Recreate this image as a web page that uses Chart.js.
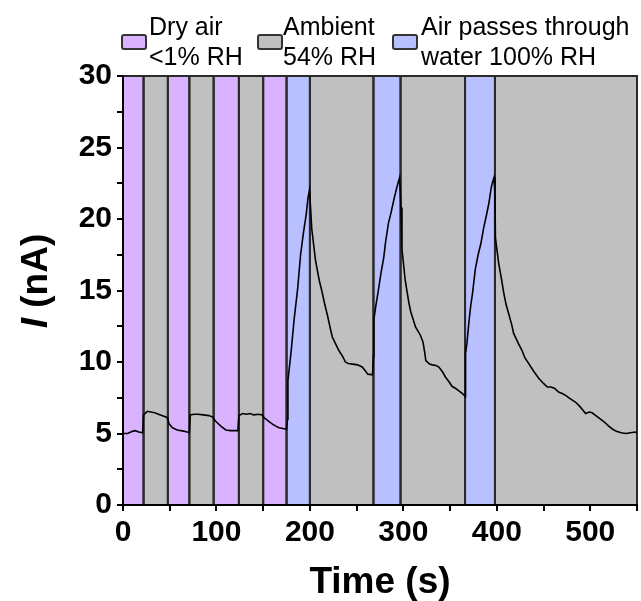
<!DOCTYPE html>
<html><head><meta charset="utf-8">
<script src="https://cdn.jsdelivr.net/npm/chart.js@4"></script>
<style>html,body{margin:0;padding:0;background:#fff}canvas{display:block}</style>
</head><body>
<canvas id="c" width="641" height="601"></canvas>
<script>
// ---- data ----
const timeS = [0,5,10,13,17,21,22,26,30,34,40,46,48,49,53,58,62,66,71,72,76,80,86,92,96,98,100,105,110,115,123,124,128,132,136,140,145,149,151,153,157,160,164,167,171,175,176,176.5,180,183,187,190,193,196,198,199.5,200.5,202,204,206,210,213,216,219,222,224,228,231,235,238,241,246,251,256,259,262,267,268,268.5,270.5,273,276,279,281,284,287,290,293,296,297.5,298.5,302,306,308,313,318,321,323,324,328,331,335,338,342,345,349,352,356,359,363,365.5,366,366.5,368,370,372,374,377,380,383,386,389,391.5,394,396,397,398,398.5,402,405,407.5,410,413,416,418,423,427,430,434,440,445,450,454,458,462,466,470,474,478,484,488,492,495,499,502,507,512,516,520,524,528,533,538,543,548,550];
const currentNA = [5.0,5.0,5.15,5.2,5.1,5.05,6.3,6.55,6.5,6.45,6.3,6.15,6.05,5.7,5.4,5.25,5.2,5.15,5.05,6.3,6.35,6.35,6.3,6.25,6.15,5.95,5.8,5.5,5.25,5.2,5.2,6.25,6.4,6.35,6.4,6.3,6.35,6.3,6.1,6.0,5.8,5.65,5.5,5.4,5.35,5.3,6.0,8.7,10.8,12.9,15.2,17.5,19.0,20.3,21.5,22.0,21.0,19.3,18.2,17.1,15.7,14.9,14.0,13.2,12.3,11.75,11.2,10.8,10.4,10.0,9.9,9.85,9.8,9.65,9.4,9.15,9.1,10.4,13.0,13.9,14.9,16.2,17.3,18.4,19.7,20.5,21.4,22.2,22.9,20.8,17.9,15.7,14.1,13.5,12.45,11.9,11.4,10.6,10.1,9.85,9.8,9.75,9.65,9.3,8.95,8.6,8.3,8.15,8.0,7.8,7.65,7.55,10.6,11.3,12.7,13.9,14.8,16.5,17.5,18.3,19.4,20.3,21.1,22.2,22.7,22.9,21.8,18.7,16.9,15.8,14.8,14.0,13.3,12.6,12.0,11.3,10.8,10.3,9.9,9.3,8.85,8.5,8.25,8.25,8.15,7.9,7.8,7.65,7.45,7.2,6.95,6.65,6.4,6.5,6.45,6.2,5.95,5.75,5.5,5.3,5.15,5.05,5.0,5.05,5.1,5.05];
const bandEdges = [0,22,48,71,97,124,150,175,200,268,297,366,398,550];
const bandKinds = ['dry','amb','dry','amb','dry','amb','dry','wet','amb','wet','amb','wet','amb'];
const legendKinds = ['dry','amb','wet'];
const legendLines = [['Dry air','<1% RH'],['Ambient','54% RH'],['Air passes through','water 100% RH']];
const xRange = [0, 550];
const yRange = [0, 30];
const xLabelStep = 100;
const yLabelStep = 5;

// ---- style ----
const kindColors = {dry:'#D9B3FF', amb:'#C0C0C0', wet:'#B8C0FF'};
const FONT = "'Liberation Sans', Arial, sans-serif";

const bandsPlugin = {
  id: 'bands',
  beforeDraw(chart) {
    const ctx = chart.ctx, xs = chart.scales.x, ys = chart.scales.y;
    const yTop = ys.getPixelForValue(yRange[1]), yBot = ys.getPixelForValue(yRange[0]);
    ctx.save();
    for (let i = 0; i < bandKinds.length; i++) {
      const x1 = xs.getPixelForValue(bandEdges[i]);
      const x2 = xs.getPixelForValue(bandEdges[i+1]);
      ctx.fillStyle = kindColors[bandKinds[i]];
      ctx.fillRect(x1, yTop, x2 - x1, yBot - yTop);
    }
    ctx.lineWidth = 2;
    ctx.strokeStyle = '#2a2a2a';
    for (let i = 0; i < bandKinds.length; i++) {
      const x1 = xs.getPixelForValue(bandEdges[i]);
      const x2 = xs.getPixelForValue(bandEdges[i+1]);
      ctx.strokeRect(x1, yTop, x2 - x1, yBot - yTop);
    }
    ctx.restore();
  }
};

const decorPlugin = {
  id: 'decor',
  afterDraw(chart) {
    const ctx = chart.ctx;
    ctx.save();
    // legend
    const swX = [122, 258, 393];
    const txX = [149, 283, 421];
    ctx.font = '25px ' + FONT;
    ctx.textBaseline = 'alphabetic';
    ctx.textAlign = 'left';
    for (let i = 0; i < legendKinds.length; i++) {
      ctx.fillStyle = kindColors[legendKinds[i]];
      ctx.strokeStyle = '#333';
      ctx.lineWidth = 2;
      ctx.beginPath();
      if (ctx.roundRect) ctx.roundRect(swX[i], 35, 24, 14, 2); else ctx.rect(swX[i], 35, 24, 14);
      ctx.fill(); ctx.stroke();
      ctx.fillStyle = '#000';
      ctx.fillText(legendLines[i][0], txX[i], 35);
      ctx.fillText(legendLines[i][1], txX[i], 65);
    }
    // y title
    ctx.translate(37, 281);
    ctx.rotate(-Math.PI/2);
    ctx.textBaseline = 'middle';
    const f1 = 'italic bold 37px ' + FONT, f2 = 'bold 37px ' + FONT;
    ctx.font = f1; const w1 = ctx.measureText('I').width;
    ctx.font = f2; const w2 = ctx.measureText(' (nA)').width;
    let sx = -(w1 + w2) / 2;
    ctx.fillStyle = '#000';
    ctx.font = f1; ctx.fillText('I', sx, 0);
    ctx.font = f2; ctx.fillText(' (nA)', sx + w1, 0);
    ctx.restore();
  }
};

new Chart(document.getElementById('c'), {
  type: 'line',
  data: {
    datasets: [{
      data: timeS.map((t, i) => ({x: t, y: currentNA[i]})),
      borderColor: '#000',
      borderWidth: 1.6,
      pointRadius: 0,
      tension: 0,
      fill: false
    }]
  },
  options: {
    responsive: false,
    animation: false,
    devicePixelRatio: 1,
    layout: {padding: {left: 0, top: 76, right: 3, bottom: 0}},
    plugins: {legend: {display: false}, tooltip: {enabled: false}},
    scales: {
      x: {
        type: 'linear', min: xRange[0], max: xRange[1],
        afterFit(s) { s.height = 96; },
        ticks: {
          stepSize: 50, autoSkip: false, maxRotation: 0, color: '#000', padding: 4,
          font: {family: FONT, size: 30, weight: 'bold'},
          callback: v => (v % xLabelStep === 0 ? String(v) : '')
        },
        grid: {drawOnChartArea: false, drawTicks: true, tickLength: 6, color: '#000', lineWidth: 2},
        border: {display: true, color: '#000', width: 2},
        title: {display: true, text: 'Time (s)', color: '#000', padding: 0,
          font: {family: FONT, size: 37, weight: 'bold', lineHeight: 1.0}}
      },
      y: {
        type: 'linear', min: yRange[0], max: yRange[1],
        afterFit(s) { s.width = 123; },
        ticks: {
          stepSize: 2.5, autoSkip: false, color: '#000', padding: 5,
          font: {family: FONT, size: 30, weight: 'bold'},
          callback: v => (v % yLabelStep === 0 ? String(v) : '')
        },
        grid: {drawOnChartArea: false, drawTicks: true, tickLength: 6, color: '#000', lineWidth: 2},
        border: {display: true, color: '#000', width: 2}
      }
    }
  },
  plugins: [bandsPlugin, decorPlugin]
});
</script>
</body></html>
